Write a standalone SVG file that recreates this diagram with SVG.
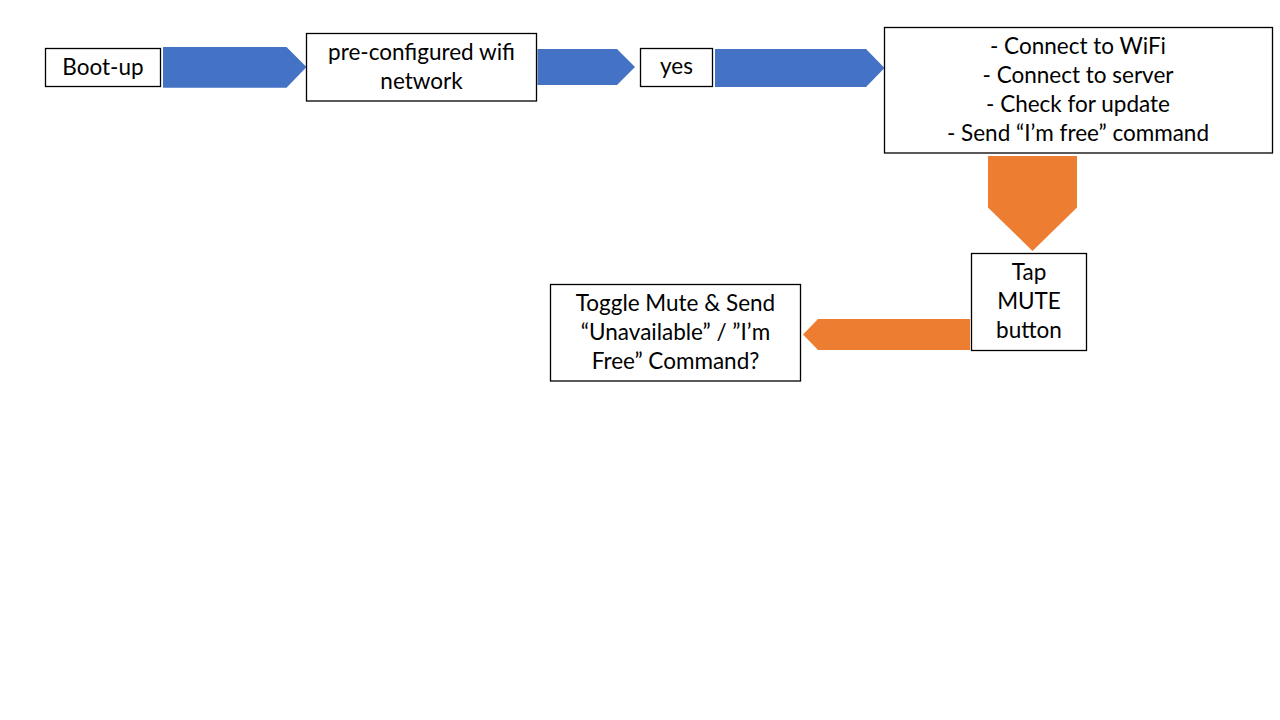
<svg xmlns="http://www.w3.org/2000/svg" width="1280" height="720" viewBox="0 0 1280 720">
<style>
.box{fill:#fff;stroke:#000;stroke-width:1.3}
.t{font-family:Lato,"Liberation Sans",sans-serif;font-size:22.5px;fill:#000;text-anchor:middle}
.blue{fill:#4472C4}
.orange{fill:#ED7D31}
</style>
<rect width="1280" height="720" fill="#fff"/>
<g id="connectors">
<polygon class="blue" points="163,47 286.5,47 306.5,67 286.5,87.7 163,87.7"/>
<polygon class="blue" points="537.5,49 617,49 635,67 617,85 537.5,85"/>
<polygon class="blue" points="715,49 866,49 884.5,68 866,87 715,87"/>
<polygon class="orange" points="988,156 1077,156 1077,207.5 1032.5,251 988,207.5"/>
<polygon class="orange" points="970,319 970,350 818,350 803,334.5 818,319"/>
</g>
<g id="boot">
<rect class="box" x="45.5" y="48.5" width="115" height="38"/>
<text class="t" x="103" y="74.5">Boot-up</text>
</g>
<g id="preconfigured">
<rect class="box" x="306.5" y="33.5" width="230" height="67.5"/>
<text class="t" x="421.5" y="59.5">pre-configured wifi</text>
<text class="t" x="421.5" y="88.5">network</text>
</g>
<g id="yes">
<rect class="box" x="640.5" y="48.5" width="72" height="38"/>
<text class="t" x="676.5" y="73.5">yes</text>
</g>
<g id="connect">
<rect class="box" x="884.5" y="27.5" width="388" height="125.5"/>
<text class="t" x="1078" y="54">- Connect to WiFi</text>
<text class="t" x="1078" y="83">- Connect to server</text>
<text class="t" x="1078" y="112">- Check for update</text>
<text class="t" x="1078" y="141">- Send “I’m free” command</text>
</g>
<g id="tap">
<rect class="box" x="971.5" y="253.5" width="115" height="97"/>
<text class="t" x="1029" y="280">Tap</text>
<text class="t" x="1029" y="309">MUTE</text>
<text class="t" x="1029" y="338">button</text>
</g>
<g id="toggle">
<rect class="box" x="550.5" y="284.5" width="250" height="96.5"/>
<text class="t" x="675.5" y="311">Toggle Mute &amp; Send</text>
<text class="t" x="675.5" y="340">“Unavailable” / ”I’m</text>
<text class="t" x="675.5" y="369">Free” Command?</text>
</g>
</svg>
